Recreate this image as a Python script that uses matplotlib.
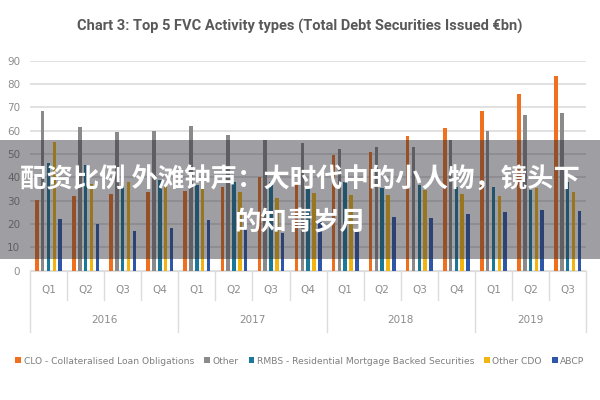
import matplotlib
matplotlib.use('Agg')
import matplotlib.pyplot as plt
import matplotlib.transforms as mtransforms
from matplotlib.patches import Rectangle
import numpy as np

# data (EUR bn)
quarters = ['Q1', 'Q2', 'Q3', 'Q4', 'Q1', 'Q2', 'Q3', 'Q4',
            'Q1', 'Q2', 'Q3', 'Q4', 'Q1', 'Q2', 'Q3']
years = ['2016', '2017', '2018', '2019']
year_counts = [4, 4, 4, 3]

clo = [30.5, 32, 32.7, 33.8, 34.3, 36, 40.3, 38, 49.5, 51, 57.7, 61.3, 68.6, 75.7, 83.4]
other = [68.5, 61.7, 59.3, 60, 62, 58.2, 56, 54.7, 52.4, 53.1, 53.1, 56, 60, 66.7, 67.7]
rmbs = [46, 45.3, 38, 39, 36.7, 38, 38.2, 36, 38, 35.3, 36.7, 36, 35.7, 34.6, 38.1]
other_cdo = [55, 37, 38, 36.5, 35.4, 33.9, 31.4, 33.2, 32.4, 32.4, 34.6, 33, 32, 35.3, 33.9]
abcp = [22, 20.2, 17.2, 18.5, 21.7, 18, 16, 21, 18, 23, 22.5, 24.3, 25.3, 26, 25.7]

series_names = ['CLO - Collateralised Loan Obligations', 'Other',
                'RMBS - Residential Mortgage Backed Securities', 'Other CDO', 'ABCP']
series = [clo, other, rmbs, other_cdo, abcp]
colors = ['#F0701E', '#8A8A8A', '#1A7898', '#F2B50F', '#2E57A8']

plt.rcParams['font.family'] = ['DejaVu Sans']

fig = plt.figure(figsize=(6, 4), dpi=100)
ax = fig.add_axes([0.05, 0.323, 0.927, 0.525])

x = np.arange(len(quarters))
step = 0.157
width = 0.095
for k, (vals, name, c) in enumerate(zip(series, series_names, colors)):
    ax.bar(x + (k - 2) * step, vals, width=width, color=c, label=name, zorder=3)

ax.set_xlim(-0.5, len(quarters) - 0.5)
ax.set_ylim(0, 90)
ax.set_yticks(range(0, 91, 10))
ax.yaxis.grid(True, color='#DCDCDC', linewidth=1.2, zorder=0)
ax.tick_params(axis='y', length=0, labelsize=7.5, colors='#8C8C8C', pad=7)
ax.set_xticks([])
for s in ['top', 'right', 'left']:
    ax.spines[s].set_visible(False)
ax.spines['bottom'].set_color('#DCDCDC')

# grouped category axis: quarters and years
trans = mtransforms.blended_transform_factory(ax.transData, ax.transAxes)
for i, q in enumerate(quarters):
    ax.text(i, -0.092, q, transform=trans, ha='center', va='center',
            fontsize=7.5, color='#8C8C8C')
bounds = np.concatenate([[0], np.cumsum(year_counts)]) - 0.5
for i in range(len(quarters) + 1):
    xb = i - 0.5
    low = -0.29 if xb in bounds else -0.14
    ax.plot([xb, xb], [0, low], transform=trans, color='#DCDCDC',
            linewidth=1, clip_on=False)
for yr, a, b in zip(years, bounds[:-1], bounds[1:]):
    ax.text((a + b) / 2, -0.235, yr, transform=trans, ha='center', va='center',
            fontsize=7.5, color='#8C8C8C')

fig.text(0.5, 0.935, 'Chart 3: Top 5 FVC Activity types (Total Debt Securities Issued €bn)',
         ha='center', va='center', fontsize=10.5, fontweight='bold', color='#595959',
         family=['Roboto', 'DejaVu Sans'])

leg = fig.legend(loc='center', bbox_to_anchor=(0.5, 0.0975), ncol=5, frameon=False,
                 fontsize=6.6, handlelength=0.6, handleheight=0.6, handletextpad=0.3,
                 columnspacing=1.1, labelcolor='#7F7F7F')

# grey banner with headline text on top of the chart
fig.patches.append(Rectangle((0, 1 - 259 / 400), 1, 119 / 400, transform=fig.transFigure,
                             facecolor='#2A2A33', alpha=0.45, edgecolor='none', zorder=5))
cjk = ['Noto Sans CJK SC', 'DejaVu Sans']
fig.text(0.5, 1 - 180 / 400, '配资比例 外滩钟声：大时代中的小人物，镜头下', ha='center', va='center',
         fontsize=19, fontweight='bold', color='white', family=cjk, zorder=6)
fig.text(0.5, 1 - 222 / 400, '的知青岁月', ha='center', va='center',
         fontsize=19, fontweight='bold', color='white', family=cjk, zorder=6)

fig.savefig('out.png', dpi=100)
